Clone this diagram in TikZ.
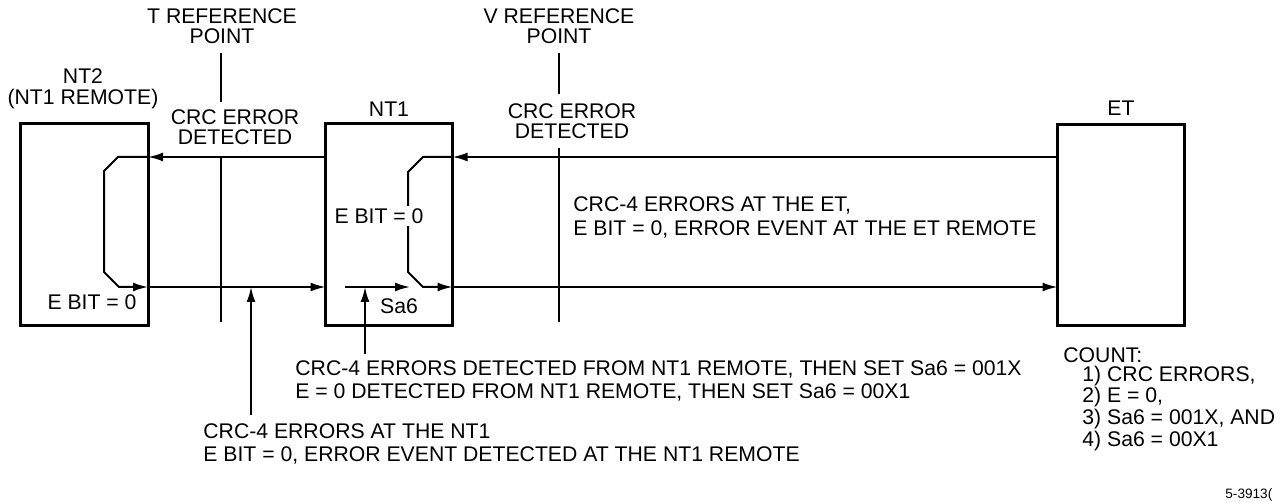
\documentclass[tikz,border=0pt]{standalone}
\usepackage{fontspec}
\setmainfont{Liberation Sans}
\usetikzlibrary{arrows.meta}

\tikzset{
	unit/.style={draw, line width=1.5bp, minimum width=63.5bp, minimum height=100.5bp, inner sep=0pt, outer sep=0pt},
	wire/.style={line width=1bp},
	arr/.style={wire, -{Latex[length=7.5bp,width=4.5bp]}},
	lbl/.style={font=\fontsize{10.6bp}{10.25bp}\selectfont, align=center, inner sep=0pt},
	note/.style={font=\fontsize{10.6bp}{11.7bp}\selectfont, align=left, inner sep=0pt, anchor=west},
	tally/.style={font=\fontsize{10.6bp}{9.5bp}\selectfont, align=left, inner sep=0pt, anchor=west},
}

\begin{document}
\begin{tikzpicture}[x=0.5bp, y=-0.5bp]
	\useasboundingbox (0,0) rectangle (1282,502);
	
	\node[unit] (nt2) at (84.5,224.5) {};
	\node[unit] (nt1) at (389,224.5) {};
	\node[unit] (et) at (1121,225) {};
	
	% loop corners
	\coordinate (a1) at (118,157);
	\coordinate (a2) at (104,171);
	\coordinate (a3) at (104,272);
	\coordinate (a4) at (119,287);
	\coordinate (b1) at (423,157);
	\coordinate (b2) at (408,172);
	\coordinate (b3) at (408,272);
	\coordinate (b4) at (423,287);
	
	\draw[arr] (et.west |- b1) -- (nt1.east |- b1);
	\draw[arr] (nt1.east |- b1) -- (b1) -- (b2) -- (b3) -- (b4) -- (nt1.east |- b4);
	\draw[arr] (nt1.east |- b4) -- (et.west |- b4);
	
	\draw[arr] (nt1.west |- a1) -- (nt2.east |- a1);
	\draw[arr] (nt2.east |- a1) -- (a1) -- (a2) -- (a3) -- (a4) -- (nt2.east |- a4);
	\draw[arr] (nt2.east |- a4) -- (nt1.west |- a4);
	
	% Sa6 insertion
	\coordinate (s0) at (345,287);
	\coordinate (s1) at (410,287);
	\draw[arr] (s0) -- (s1);
	\coordinate (p1) at (251,415);
	\coordinate (p2) at (365,354);
	\draw[arr] (p1) -- (p1 |- a4);
	\draw[arr] (p2) -- (p2 |- b4);
	
	% reference points
	\foreach \x/\top/\low in {221/102/157, 559/94/148} {
		\draw[wire] (\x,53) -- (\x,\top);
		\draw[wire] (\x,\low) -- (\x,322);
	}
	
	\node[lbl] (tref) at (222,26) {T REFERENCE\\POINT};
	\node[lbl] (vref) at (559,26) {V REFERENCE\\POINT};
	\node[lbl] (nt2lbl) at (83,89) {NT2\\(NT1 REMOTE)};
	\node[lbl] (tcrc) at (235,127) {CRC ERROR\\DETECTED};
	\node[lbl] (vcrc) at (572,121) {CRC ERROR\\DETECTED};
	\node[lbl] (nt1lbl) at (389,109) {NT1};
	\node[lbl] (etlbl) at (1121,108) {ET};
	\node[lbl] (nt2bit) at (92,302) {E BIT = 0};
	\node[lbl, fill=white, inner sep=1bp] (nt1bit) at (379,216) {E BIT = 0};
	\node[lbl] (sa6) at (399,306) {Sa6};
	
	\node[note] (etnote) at (573,217.5) {CRC-4 ERRORS AT THE ET,\\E BIT = 0, ERROR EVENT AT THE ET REMOTE};
	\node[note] (sa6note) at (295,381) {CRC-4 ERRORS DETECTED FROM NT1 REMOTE, THEN SET Sa6 = 001X\\E = 0 DETECTED FROM NT1 REMOTE, THEN SET Sa6 = 00X1};
	\node[note] (nt1note) at (203,444) {CRC-4 ERRORS AT THE NT1\\E BIT = 0, ERROR EVENT DETECTED AT THE NT1 REMOTE};
	\node[tally] (count) at (1063,399) {COUNT:\\\hspace*{9.5bp}1) CRC ERRORS,\\\hspace*{9.5bp}2) E = 0,\\\hspace*{9.5bp}3) Sa6 = 001X, AND\\\hspace*{9.5bp}4) Sa6 = 00X1};
	
	\node[anchor=west, inner sep=0pt, font=\fontsize{6.8bp}{8bp}\selectfont] (fig) at (1225,495) {5-3913(};
\end{tikzpicture}
\end{document}
